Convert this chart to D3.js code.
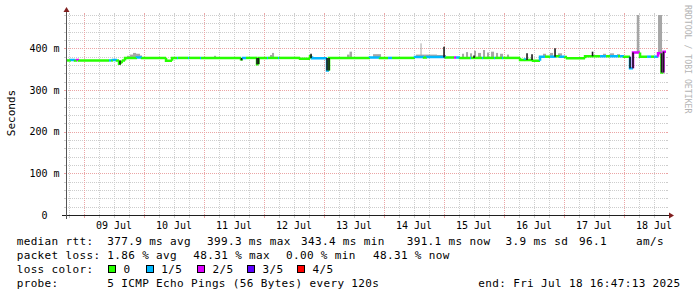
<!DOCTYPE html>
<html><head><meta charset="utf-8">
<script src="https://cdn.jsdelivr.net/npm/d3@7"></script>
<style>
html,body{margin:0;padding:0;background:#fff;}
svg{display:block;}
text{font-family:"DejaVu Sans Mono",monospace;fill:#000;}
</style></head><body>
<svg id="c" width="697" height="297"></svg>
<script>
// ---------- data ----------
const startTime = "2025-07-08T16:47:13";
const endTime   = "2025-07-18T16:47:13";
const yTicks = [0, 100, 200, 300, 400];
const yTickLabels = ["0", "100 m", "200 m", "300 m", "400 m"];
const yMax = 480;
const lossLabels = ["0", "1/5", "2/5", "3/5", "4/5"];
const lossColors = ["#26ff00", "#00b8ff", "#dd00ff", "#5e00ff", "#ff0000"];

// median rtt (ms) as steps: [from time, value, lost pings]
const medianSteps = [
 ["2025-07-08T16:47", 371, 0], ["2025-07-08T18:48", 372, 1], ["2025-07-08T20:24", 371, 0],
 ["2025-07-08T21:12", 372, 2], ["2025-07-08T22:00", 371, 0], ["2025-07-09T10:00", 371, 1],
 ["2025-07-09T10:48", 371, 0], ["2025-07-09T11:36", 372, 1], ["2025-07-09T13:12", 371, 0],
 ["2025-07-09T14:00", 363, 0], ["2025-07-09T14:48", 368, 0], ["2025-07-09T15:36", 371, 0],
 ["2025-07-09T16:24", 377, 0], ["2025-07-09T21:12", 378, 1], ["2025-07-09T23:12", 377, 0],
 ["2025-07-10T08:48", 370, 0], ["2025-07-10T11:12", 377, 0], ["2025-07-10T13:12", 377, 1],
 ["2025-07-10T13:36", 377, 0], ["2025-07-10T17:36", 377, 1], ["2025-07-10T18:00", 377, 0],
 ["2025-07-10T22:24", 377, 1], ["2025-07-10T22:48", 377, 0], ["2025-07-11T14:48", 374, 0],
 ["2025-07-11T15:36", 377, 1], ["2025-07-11T16:48", 377, 0], ["2025-07-11T21:12", 362, 0],
 ["2025-07-11T21:48", 377, 0], ["2025-07-12T01:12", 377, 1], ["2025-07-12T01:36", 377, 0],
 ["2025-07-12T05:36", 377, 1], ["2025-07-12T06:00", 377, 0], ["2025-07-12T14:24", 375, 0],
 ["2025-07-12T18:24", 381, 0], ["2025-07-12T19:12", 376, 1], ["2025-07-13T01:12", 347, 1],
 ["2025-07-13T02:00", 377, 0], ["2025-07-13T18:24", 378, 1], ["2025-07-13T22:24", 377, 0],
 ["2025-07-14T01:36", 377, 1], ["2025-07-14T03:12", 377, 0], ["2025-07-14T12:24", 379, 1],
 ["2025-07-14T16:00", 378, 0], ["2025-07-14T17:12", 379, 1],
 ["2025-07-15T00:48", 378, 0], ["2025-07-15T04:00", 378, 2], ["2025-07-15T04:48", 378, 1],
 ["2025-07-15T06:24", 377, 0], ["2025-07-15T10:24", 377, 1], ["2025-07-15T10:48", 377, 0],
 ["2025-07-15T15:12", 377, 1], ["2025-07-15T15:36", 377, 0], ["2025-07-15T20:00", 377, 1],
 ["2025-07-15T20:24", 377, 0], ["2025-07-15T23:12", 377, 1], ["2025-07-15T23:36", 377, 0],
 ["2025-07-16T06:24", 372, 0], ["2025-07-16T08:24", 373, 1], ["2025-07-16T08:48", 372, 0],
 ["2025-07-16T11:36", 370, 0], ["2025-07-16T14:24", 380, 1], ["2025-07-16T16:24", 380, 0],
 ["2025-07-16T18:24", 380, 1], ["2025-07-16T20:48", 381, 0], ["2025-07-16T22:24", 380, 1],
 ["2025-07-17T00:24", 379, 0], ["2025-07-17T01:12", 376, 0], ["2025-07-17T08:24", 381, 0],
 ["2025-07-17T14:24", 381, 1], ["2025-07-17T16:48", 381, 0], ["2025-07-17T18:24", 381, 1],
 ["2025-07-17T21:36", 381, 0], ["2025-07-17T22:24", 381, 1], ["2025-07-18T00:00", 380, 0],
 ["2025-07-18T02:24", 352, 1], ["2025-07-18T03:36", 390, 2], ["2025-07-18T06:24", 380, 0],
 ["2025-07-18T09:12", 380, 1], ["2025-07-18T10:48", 380, 0], ["2025-07-18T12:00", 380, 1],
 ["2025-07-18T13:36", 388, 2], ["2025-07-18T15:00", 342, 0], ["2025-07-18T15:48", 392, 2]
];

// smoke (ping spread): [from, to, low ms, high ms]
const smoke = [
 ["2025-07-09T17:12","2025-07-09T18:24",377,382], ["2025-07-09T18:24","2025-07-09T19:36",377,385],
 ["2025-07-09T19:36","2025-07-09T20:48",377,389], ["2025-07-09T20:48","2025-07-09T22:24",377,387],
 ["2025-07-09T22:24","2025-07-09T23:12",377,383], ["2025-07-11T04:00","2025-07-11T04:48",377,382],
 ["2025-07-12T02:24","2025-07-12T03:12",377,384], ["2025-07-12T03:12","2025-07-12T04:00",377,389],
 ["2025-07-13T09:12","2025-07-13T10:12",377,385], ["2025-07-13T10:12","2025-07-13T11:12",377,392],
 ["2025-07-13T19:36","2025-07-13T22:48",377,386], ["2025-07-14T12:48","2025-07-14T21:12",378,385],
 ["2025-07-14T14:36","2025-07-14T15:00",378,412], ["2025-07-14T21:12","2025-07-15T00:48",378,384],
 ["2025-07-15T07:12","2025-07-15T08:00",377,387], ["2025-07-15T08:48","2025-07-15T09:36",377,391],
 ["2025-07-15T10:24","2025-07-15T11:12",377,388], ["2025-07-15T12:00","2025-07-15T12:48",377,394],
 ["2025-07-15T13:36","2025-07-15T14:48",377,389], ["2025-07-15T15:36","2025-07-15T16:24",377,396],
 ["2025-07-15T17:12","2025-07-15T18:00",377,390], ["2025-07-15T18:48","2025-07-15T20:00",377,392],
 ["2025-07-15T20:48","2025-07-15T21:36",377,389], ["2025-07-15T22:24","2025-07-15T23:36",377,387],
 ["2025-07-16T01:12","2025-07-16T02:00",377,385], ["2025-07-16T15:36","2025-07-16T16:48",380,387],
 ["2025-07-16T18:24","2025-07-16T19:36",380,389], ["2025-07-16T21:36","2025-07-16T23:12",380,388],
 ["2025-07-17T15:36","2025-07-17T16:48",381,387], ["2025-07-17T18:24","2025-07-17T20:00",381,388],
 ["2025-07-17T21:12","2025-07-17T22:24",381,386], ["2025-07-18T05:06","2025-07-18T06:06",390,480],
 ["2025-07-18T13:36","2025-07-18T15:12",388,480]
];

// dense smoke (dark) spikes: [time, low ms, high ms]
const spikes = [
 ["2025-07-09T14:24",361,371], ["2025-07-11T15:00",371,377], ["2025-07-11T21:12",362,377],
 ["2025-07-11T21:48",362,377], ["2025-07-12T18:48",377,387], ["2025-07-13T01:12",347,377],
 ["2025-07-13T02:00",347,377], ["2025-07-15T00:00",378,404],
 ["2025-07-15T12:00",377,383], ["2025-07-16T09:12",372,388], ["2025-07-16T11:12",372,386],
 ["2025-07-16T20:24",380,400], ["2025-07-17T11:24",381,392], ["2025-07-18T02:24",352,380],
 ["2025-07-18T03:36",352,390], ["2025-07-18T15:00",342,388], ["2025-07-18T15:48",342,392]
];

const statLines = [
 [["median rtt:",16.7],["377.9 ms avg",107.3],["399.3 ms max",207],["343.4 ms min",301],["391.1 ms now",406.7],["3.9 ms sd",505.5],["96.1",579],["am/s",636]],
 [["packet loss:",16.7],["1.86 % avg",107.3],["48.31 % max",193.3],["0.00 % min",286],["48.31 % now",373]],
 [["loss color:",16.7]],
 [["probe:",16.7],["5 ICMP Echo Pings (56 Bytes) every 120s",107.3],["end: Fri Jul 18 16:47:13 2025",478.3]]
];

// ---------- drawing ----------
const svg = d3.select("#c");
const pT = d3.timeParse("%Y-%m-%dT%H:%M:%S");
const pM = d3.timeParse("%Y-%m-%dT%H:%M");
const parse = s => pT(s) || pM(s);
const t0 = parse(startTime), t1 = parse(endTime);
const X0 = 66, X1 = 666, Y0 = 215, Y1 = 15;
const x = d3.scaleTime().domain([t0, t1]).range([X0, X1]);
const y = d3.scaleLinear().domain([0, yMax]).range([Y0, Y1]);

const GRID = "#cdcdcd", MGRID = "#eba5a5";
const AXIS = "#1f1f1f", ARROW = "#801f1f";
const px = v => Math.round(v) + 0.5;

const g = svg.append("g").attr("shape-rendering", "crispEdges");
const minorT = d3.timeHour.every(6).range(t0, t1).filter(d => d.getHours() !== 0);
const majorT = d3.timeDay.range(t0, t1);
function vline(d, col) {
  const xx = px(x(d));
  g.append("line").attr("x1", xx).attr("x2", xx).attr("y1", Y0).attr("y2", Y1)
   .attr("stroke", col).attr("stroke-dasharray", "1,1");
  g.append("line").attr("x1", xx).attr("x2", xx).attr("y1", Y0 + 1).attr("y2", Y0 + 3).attr("stroke", col);
  g.append("line").attr("x1", xx).attr("x2", xx).attr("y1", Y1 - 2).attr("y2", Y1).attr("stroke", col);
}
function hline(v, col) {
  const yy = px(y(v));
  g.append("line").attr("x1", X0).attr("x2", X1).attr("y1", yy).attr("y2", yy)
   .attr("stroke", col).attr("stroke-dasharray", "1,1");
  g.append("line").attr("x1", X0 - 2).attr("x2", X0).attr("y1", yy).attr("y2", yy).attr("stroke", col);
  g.append("line").attr("x1", X1).attr("x2", X1 + 2).attr("y1", yy).attr("y2", yy).attr("stroke", col);
}
minorT.forEach(d => vline(d, GRID));
d3.range(20, yMax + 1, 20).filter(v => v % 100 !== 0).forEach(v => hline(v, GRID));
majorT.forEach(d => vline(d, MGRID));
yTicks.filter(v => v > 0).forEach(v => hline(v, MGRID));

// smoke
const dg = svg.append("g");
smoke.forEach(s => {
  const a = x(parse(s[0])), b = x(parse(s[1]));
  dg.append("rect").attr("x", a).attr("width", Math.max(1, b - a))
    .attr("y", y(s[3])).attr("height", y(s[2]) - y(s[3])).attr("fill", "#a6a6a6");
});

// median line (loss coloured)
medianSteps.forEach((s, i) => {
  const a = x(parse(s[0]));
  const b = i < medianSteps.length - 1 ? x(parse(medianSteps[i + 1][0])) : x(t1);
  const prev = i > 0 ? medianSteps[i - 1][1] : s[1];
  dg.append("path")
    .attr("d", `M${a},${y(prev)}V${y(s[1])}H${b}`)
    .attr("fill", "none").attr("stroke", lossColors[s[2]]).attr("stroke-width", 2.5);
});

// dark spikes
spikes.forEach(s => {
  const xx = x(parse(s[0]));
  dg.append("line").attr("x1", xx).attr("x2", xx).attr("y1", y(s[1])).attr("y2", y(s[2]))
    .attr("stroke", "#1a1a1a").attr("stroke-width", 1.6);
});

// axes
const ag = svg.append("g");
ag.append("line").attr("x1", X0 - 4).attr("x2", X1 + 4).attr("y1", Y0 + 0.5).attr("y2", Y0 + 0.5).attr("stroke", AXIS);
ag.append("line").attr("x1", X0 + 0.5).attr("x2", X0 + 0.5).attr("y1", Y0 + 4).attr("y2", Y1 - 4).attr("stroke", "#555");
ag.append("path").attr("d", `M${X1 + 3},${Y0 - 2.5}L${X1 + 3},${Y0 + 3.5}L${X1 + 8},${Y0 + 0.5}Z`).attr("fill", ARROW);
ag.append("path").attr("d", `M${X0 - 2.5},${Y1 - 3}L${X0 + 3.5},${Y1 - 3}L${X0 + 0.5},${Y1 - 8}Z`).attr("fill", ARROW);

yTicks.forEach((v, i) => {
  ag.append("text").attr("x", v === 0 ? 47.6 : 59.6).attr("y", y(v) + 3.6)
    .attr("text-anchor", "end").attr("font-size", 10).text(yTickLabels[i]);
});
const fmt = d3.timeFormat("%d %b");
majorT.forEach(d => {
  const noon = d3.timeHour.offset(d, 12);
  if (noon > t1) return;
  ag.append("text").attr("x", x(noon)).attr("y", 228.8).attr("text-anchor", "middle")
    .attr("font-size", 10).text(fmt(noon));
});

svg.append("text").attr("transform", "translate(15,113) rotate(-90)").attr("text-anchor", "middle")
  .attr("font-size", 11).text("Seconds");
svg.append("text").attr("transform", "translate(685,5) rotate(90)").attr("font-size", 8.2)
  .style("fill", "#b4b4b4").text("RRDTOOL / TOBI OETIKER");

const baselines = [244.5, 258.8, 273, 287.3];
statLines.forEach((line, li) => {
  line.forEach(tk => {
    svg.append("text").attr("x", tk[1]).attr("y", baselines[li]).attr("font-size", 11)
      .attr("letter-spacing", "0.35px").style("white-space", "pre").text(tk[0]);
  });
});
const boxX = [108, 145.7, 197, 247, 297];
lossLabels.forEach((l, i) => {
  svg.append("rect").attr("x", Math.round(boxX[i]) + 0.5).attr("y", 265.5).attr("width", 7).attr("height", 7)
    .attr("fill", lossColors[i]).attr("stroke", "#000");
  svg.append("text").attr("x", boxX[i] + 15.5).attr("y", baselines[2]).attr("font-size", 11)
    .attr("letter-spacing", "0.35px").text(l);
});
</script>
</body></html>
